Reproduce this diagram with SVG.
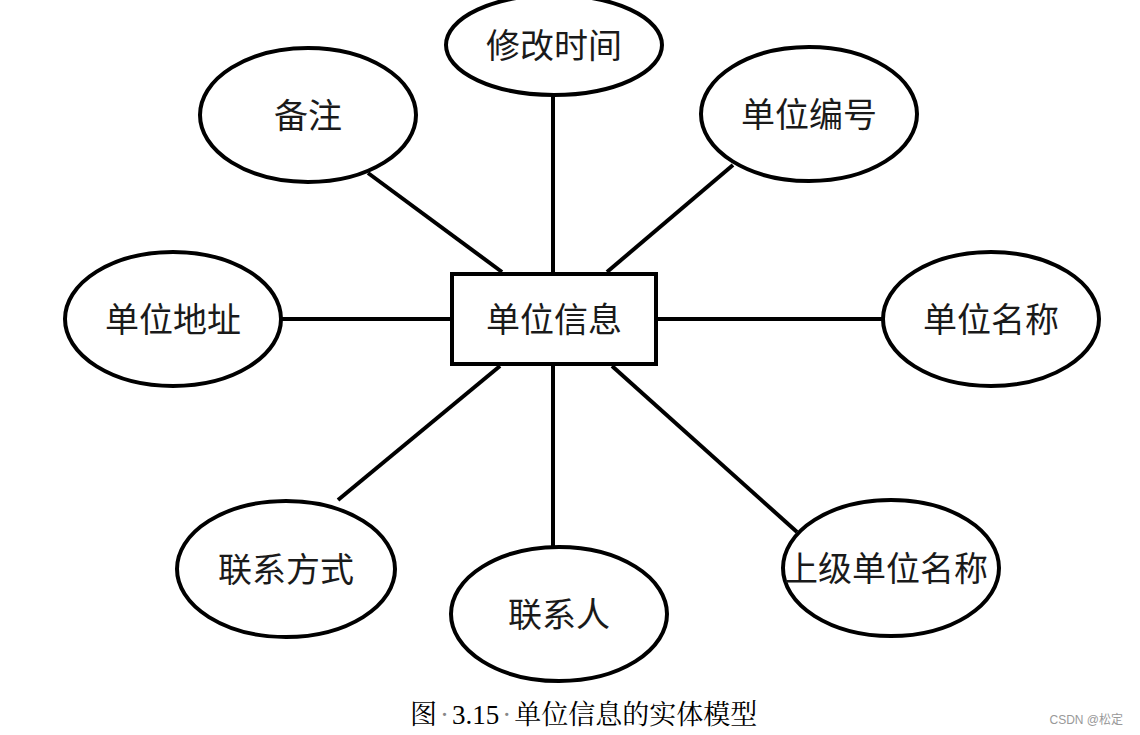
<svg xmlns="http://www.w3.org/2000/svg" width="1140" height="735" viewBox="0 0 1140 735">
<style>
.e{fill:#fff;stroke:#000;stroke-width:4}
.c line{stroke:#000;stroke-width:4}
.t{font-family:"Noto Sans CJK SC","Noto Sans",sans-serif;font-size:34px;fill:#1a1a1a;text-anchor:middle;dominant-baseline:central}
.cap{font-family:"Liberation Serif","Noto Serif CJK SC","Noto Sans CJK SC",serif;font-size:27px;fill:#000}
</style>
<rect width="1140" height="735" fill="#fff"/>
<g class="c">
<line x1="368" y1="173" x2="502" y2="272"/>
<line x1="553" y1="95" x2="553" y2="273"/>
<line x1="733" y1="165" x2="607" y2="272"/>
<line x1="282" y1="319" x2="451" y2="319"/>
<line x1="656" y1="319" x2="883" y2="319"/>
<line x1="500" y1="366" x2="338" y2="500"/>
<line x1="553" y1="364" x2="553" y2="547"/>
<line x1="612" y1="366" x2="797" y2="532"/>
</g>
<g id="center"><rect x="452" y="274" width="204" height="90" fill="#fff" stroke="#000" stroke-width="4"/><text class="t" x="554" y="317">单位信息</text></g>
<g id="n-xgsj"><ellipse class="e" cx="554" cy="45" rx="108" ry="50"/><text class="t" x="554" y="43">修改时间</text></g>
<g id="n-bz"><ellipse class="e" cx="308" cy="115" rx="108" ry="67"/><text class="t" x="308" y="113">备注</text></g>
<g id="n-dwbh"><ellipse class="e" cx="809" cy="114" rx="108" ry="67"/><text class="t" x="809" y="112">单位编号</text></g>
<g id="n-dwdz"><ellipse class="e" cx="173" cy="319" rx="108" ry="67"/><text class="t" x="173" y="317">单位地址</text></g>
<g id="n-dwmc"><ellipse class="e" cx="991" cy="319" rx="108" ry="67"/><text class="t" x="991" y="317">单位名称</text></g>
<g id="n-lxfs"><ellipse class="e" cx="286" cy="569" rx="109" ry="68"/><text class="t" x="286" y="567">联系方式</text></g>
<g id="n-lxr"><ellipse class="e" cx="559" cy="614" rx="108" ry="67"/><text class="t" x="559" y="612">联系人</text></g>
<g id="n-sjdwmc"><ellipse class="e" cx="891" cy="568" rx="108" ry="68"/><text class="t" x="886" y="566">上级单位名称</text></g>
<text class="cap" x="410" y="724">图<tspan fill="#888" dx="3">·</tspan><tspan dx="3">3.15</tspan><tspan fill="#888" dx="3">·</tspan><tspan dx="3">单位信息的实体模型</tspan></text>
<text x="1123" y="724" font-family="Liberation Sans,Noto Sans CJK SC,sans-serif" font-size="12" fill="#999" text-anchor="end">CSDN @松定</text>
</svg>
